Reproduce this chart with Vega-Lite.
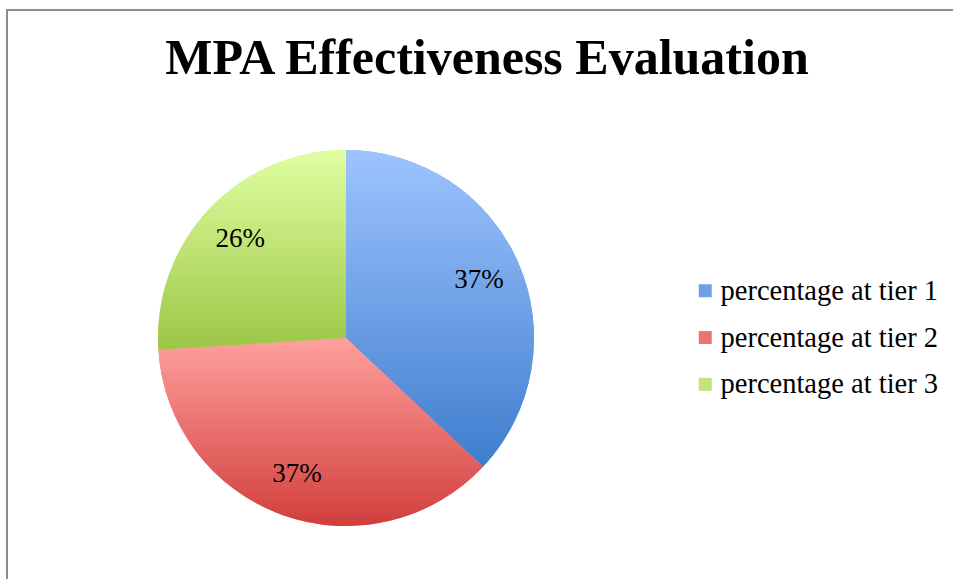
{
  "$schema": "https://vega.github.io/schema/vega-lite/v6.json",
  "autosize": {"type": "none"},
  "padding": {"left": 7, "top": 10, "right": -2, "bottom": -2},
  "width": 948,
  "height": 571,
  "background": "white",
  "view": {"stroke": "#8c8c8c", "strokeWidth": 2},
  "title": {
    "text": "MPA Effectiveness Evaluation",
    "font": "Liberation Serif",
    "fontSize": 50,
    "fontWeight": "bold",
    "color": "#000000",
    "anchor": "middle",
    "baseline": "alphabetic",
    "offset": -114,
    "dx": 6
  },
  "data": {
    "values": [
      {"tier": "percentage at tier 1", "value": 0.37},
      {"tier": "percentage at tier 2", "value": 0.37},
      {"tier": "percentage at tier 3", "value": 0.26}
    ]
  },
  "layer": [
    {
      "mark": {"type": "arc", "outerRadius": 188, "x": 339, "y": 328},
      "encoding": {
        "theta": {"field": "value", "type": "quantitative", "stack": true},
        "order": {"field": "tier"},
        "color": {
          "field": "tier",
          "type": "nominal",
          "scale": {"range": ["#6fa0e6", "#eb7472", "#c2e27a"]},
          "legend": {
            "title": null,
            "orient": "none",
            "legendX": 684,
            "legendY": 266.5,
            "padding": 0,
            "symbolType": "square",
            "symbolSize": 169,
            "symbolStrokeWidth": 0,
            "labelFont": "Liberation Serif",
            "labelFontSize": 28.5,
            "labelColor": "#000000",
            "labelOffset": 1,
            "rowPadding": 17.8,
            "labelLimit": 400,
            "encode": {
              "symbols": {
                "update": {
                  "fill": {"signal": "datum.value === 'percentage at tier 1' ? {gradient: 'linear', x1: 0, y1: 0, x2: 0, y2: 1, stops: [{offset: 0, color: '#9ec4ff'}, {offset: 1, color: '#3e7dce'}]} : datum.value === 'percentage at tier 2' ? {gradient: 'linear', x1: 0, y1: 0, x2: 0, y2: 1, stops: [{offset: 0, color: '#ffa09e'}, {offset: 1, color: '#d23e3c'}]} : {gradient: 'linear', x1: 0, y1: 0, x2: 0, y2: 1, stops: [{offset: 0, color: '#e0ffa2'}, {offset: 1, color: '#9cc646'}]}"}
                }
              }
            }
          }
        }
      }
    },
    {
      "mark": {
        "type": "arc",
        "outerRadius": 188,
        "x": 339,
        "y": 328,
        "fill": {"expr": "datum.tier === 'percentage at tier 1' ? {gradient: 'linear', x1: 0, y1: 0, x2: 0, y2: 1, stops: [{offset: 0, color: '#9ec4ff'}, {offset: 1, color: '#3e7dce'}]} : datum.tier === 'percentage at tier 2' ? {gradient: 'linear', x1: 0, y1: 0, x2: 0, y2: 1, stops: [{offset: 0, color: '#ffa09e'}, {offset: 1, color: '#d23e3c'}]} : {gradient: 'linear', x1: 0, y1: 0, x2: 0, y2: 1, stops: [{offset: 0, color: '#e0ffa2'}, {offset: 1, color: '#9cc646'}]}"}
      },
      "encoding": {
        "theta": {"field": "value", "type": "quantitative", "stack": true},
        "order": {"field": "tier"},
        "detail": {"field": "tier"}
      }
    },
    {
      "mark": {
        "type": "text",
        "radius": 145,
        "x": 339,
        "y": 328,
        "font": "Liberation Serif",
        "fontSize": 27,
        "color": "#000000"
      },
      "encoding": {
        "theta": {"field": "value", "type": "quantitative", "stack": true},
        "order": {"field": "tier"},
        "detail": {"field": "tier"},
        "text": {"field": "value", "type": "quantitative", "format": ".0%"}
      }
    }
  ]
}
